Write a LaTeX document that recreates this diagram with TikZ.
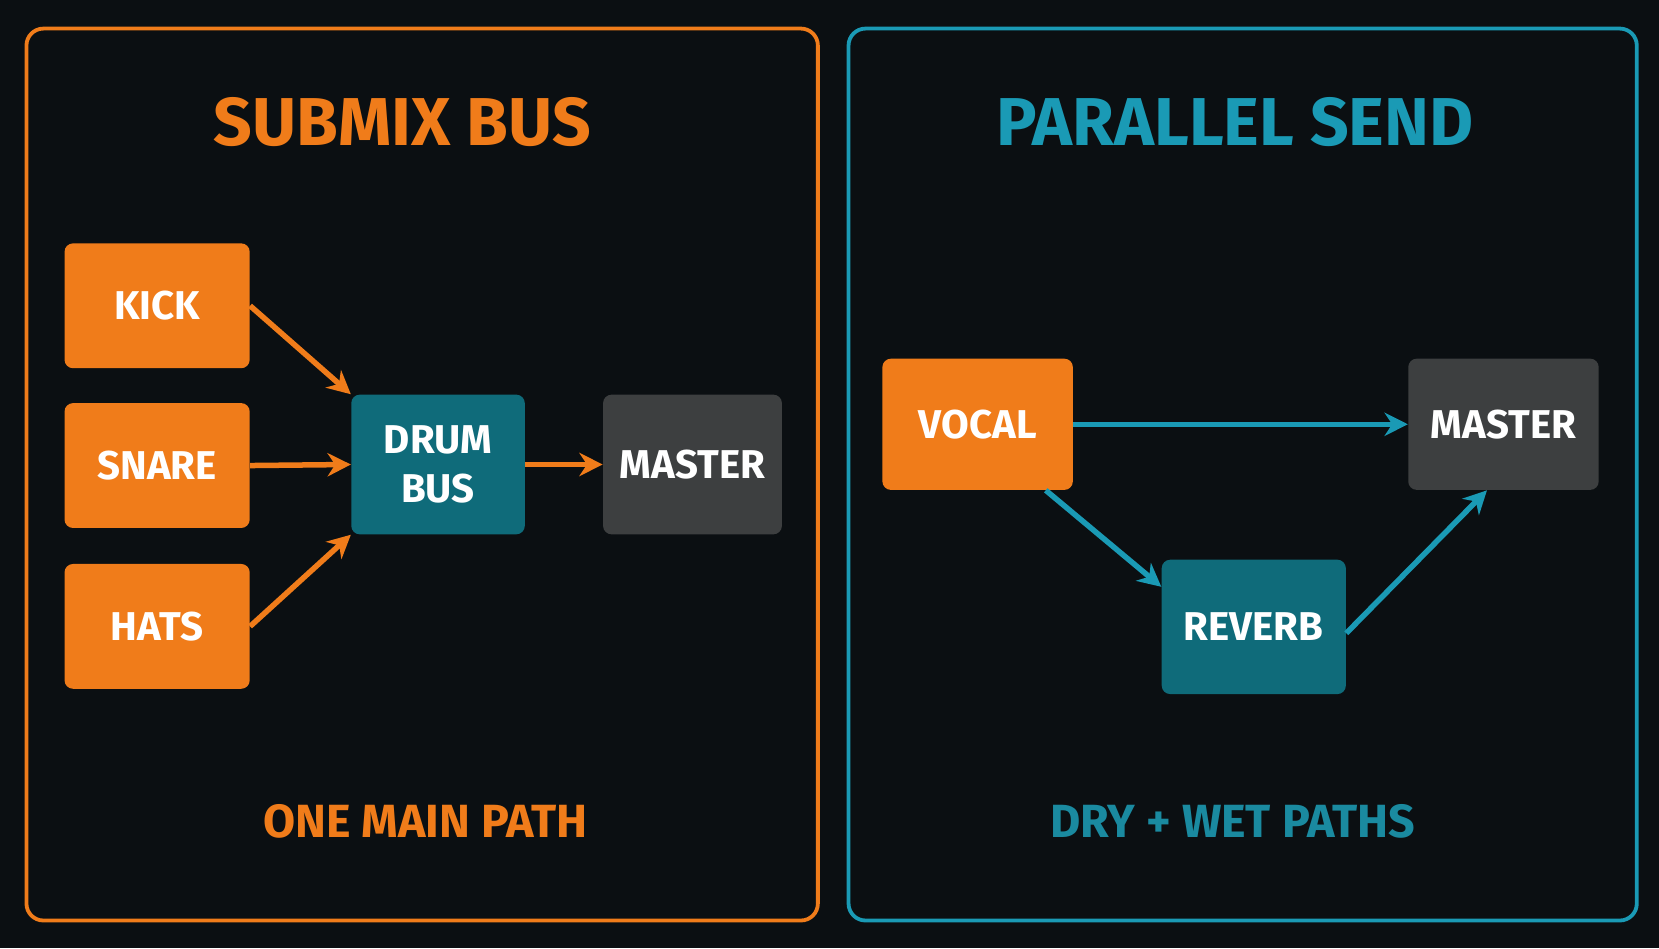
\documentclass[tikz,border=0pt]{standalone}
\usepackage{fontspec}
\usetikzlibrary{arrows.meta}
\setmainfont{Fira Sans}
\begin{document}
\definecolor{bg}{HTML}{0B0F12}
\definecolor{org}{HTML}{F07C1A}
\definecolor{teal}{HTML}{1A9AB5}
\definecolor{dteal}{HTML}{1A8AA0}
\definecolor{busf}{HTML}{0F6B7A}
\definecolor{mst}{HTML}{3D3F40}
\begin{tikzpicture}[x=0.5pt,y=-0.5pt,
  box/.style={rounded corners=4pt,inner sep=0pt,text=white,font=\bfseries\fontsize{19}{20}\selectfont,align=center},
  ob/.style={box,fill=org},
  tb/.style={box,fill=busf},
  mb/.style={box,fill=mst},
  oa/.style={draw=org,line width=2.6pt,-{Stealth[length=11pt,width=11pt]}},
  ta/.style={draw=teal,line width=2.6pt,-{Stealth[length=11pt,width=11pt]}},
  panel/.style={line width=1.8pt,rounded corners=8pt}]
\fill[bg] (0,0) rectangle (1568,896);
\useasboundingbox (0,0) rectangle (1568,896);
\draw[panel,org] (25,27) rectangle (773,870);
\draw[panel,teal] (802,27) rectangle (1547,870);
\node[text=org,font=\bfseries\fontsize{32}{34}\selectfont] (t1) at (380,115) {SUBMIX BUS};
\node[text=teal,font=\bfseries\fontsize{32}{34}\selectfont] (t2) at (1167,115) {PARALLEL SEND};
\node[ob,minimum width=87.5pt,minimum height=59pt] (kick) at (148.5,289) {KICK};
\node[ob,minimum width=87.5pt,minimum height=59pt] (snare) at (148.5,440) {SNARE};
\node[ob,minimum width=87.5pt,minimum height=59pt] (hats) at (148.5,592) {HATS};
\node[tb,minimum width=82pt,minimum height=66pt] (drum) at (414,439) {DRUM\\[3pt]BUS};
\node[mb,minimum width=84.5pt,minimum height=66pt] (m1) at (654.5,439) {MASTER};
\draw[oa] (kick.east) -- (drum.north west);
\draw[oa] (snare.east) -- (drum.west);
\draw[oa] (hats.east) -- (drum.south west);
\draw[oa] (drum.east) -- (m1.west);
\node[text=org,font=\bfseries\fontsize{22}{24}\selectfont] (c1) at (402,776) {ONE MAIN PATH};
\node[ob,minimum width=90pt,minimum height=62pt] (vocal) at (924,401) {VOCAL};
\node[mb,minimum width=90pt,minimum height=62pt] (m2) at (1421,401) {MASTER};
\node[tb,minimum width=87pt,minimum height=63.5pt] (rev) at (1185,592.5) {REVERB};
\draw[ta] (vocal.east) -- (m2.west);
\draw[ta] ([xshift=-13pt]vocal.south east) -- ([yshift=-13pt]rev.north west);
\draw[ta] ([yshift=-3pt]rev.east) -- ([xshift=-53pt]m2.south east);
\node[text=dteal,font=\bfseries\fontsize{22}{24}\selectfont] (c2) at (1165,776) {DRY + WET PATHS};
\end{tikzpicture}
\end{document}
